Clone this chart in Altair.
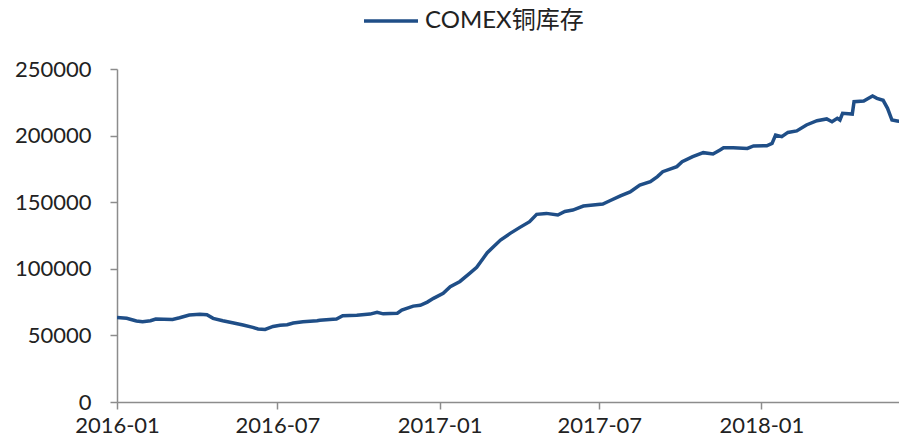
import altair as alt
import pandas as pd

dates = [
    "2016-01-01", "2016-01-12", "2016-01-23", "2016-01-30", "2016-02-08", "2016-02-14",
    "2016-02-23", "2016-03-04", "2016-03-12", "2016-03-23", "2016-04-04", "2016-04-12",
    "2016-04-19", "2016-04-30", "2016-05-11", "2016-05-23", "2016-06-03", "2016-06-09",
    "2016-06-17", "2016-06-26", "2016-07-04", "2016-07-12", "2016-07-19", "2016-07-30",
    "2016-08-15", "2016-08-18", "2016-09-02", "2016-09-06", "2016-09-13", "2016-09-29",
    "2016-10-14", "2016-10-22", "2016-10-29", "2016-11-14", "2016-11-19", "2016-12-02",
    "2016-12-10", "2016-12-18", "2016-12-25", "2017-01-05", "2017-01-13", "2017-01-24",
    "2017-02-04", "2017-02-12", "2017-02-18", "2017-02-24", "2017-03-03", "2017-03-11",
    "2017-03-22", "2017-04-02", "2017-04-13", "2017-04-21", "2017-05-02", "2017-05-15",
    "2017-05-23", "2017-06-01", "2017-06-13", "2017-07-05", "2017-07-13", "2017-07-25",
    "2017-08-05", "2017-08-16", "2017-08-28", "2017-09-05", "2017-09-11", "2017-09-27",
    "2017-10-03", "2017-10-15", "2017-10-27", "2017-11-07", "2017-11-15", "2017-11-19",
    "2017-11-30", "2017-12-16", "2017-12-23", "2018-01-07", "2018-01-13", "2018-01-17",
    "2018-01-24", "2018-01-31", "2018-02-10", "2018-02-21", "2018-03-05", "2018-03-16",
    "2018-03-22", "2018-03-28", "2018-03-31", "2018-04-03", "2018-04-14", "2018-04-16",
    "2018-04-27", "2018-05-01", "2018-05-07", "2018-05-12", "2018-05-19", "2018-05-24",
    "2018-05-29", "2018-06-04", "2018-06-09", "2018-06-15",
]
inventory = [
    63500, 62800, 60800, 60300, 61000, 62300,
    62200, 62000, 63300, 65300, 65800, 65500,
    62800, 61000, 59500, 57800, 56000, 54800,
    54500, 56700, 57600, 58000, 59300, 60300,
    61000, 61400, 62200, 62300, 64700, 65200,
    66000, 67400, 66200, 66700, 69000, 72000,
    72600, 75000, 77800, 81600, 86600, 90500,
    96600, 101100, 106600, 112100, 116600, 121600,
    126600, 131100, 135400, 140900, 141600, 140400,
    143000, 144100, 147100, 148600, 151100, 154700,
    157700, 162900, 165400, 169200, 172900, 176700,
    180400, 184200, 187200, 186200, 189200, 190900,
    190900, 190400, 192200, 192400, 194200, 200400,
    199200, 202400, 203500, 208000, 211200, 212500,
    210400, 213000, 211700, 216700, 216200, 225500,
    226000, 227500, 229700, 228000, 226500, 220500,
    211700, 211000, 210400, 207400,
]
series_name = "COMEX铜库存"
x_ticks = ["2016-01-01", "2016-07-01", "2017-01-01", "2017-07-01", "2018-01-01"]
x_view_end = "2018-06-06"  # right edge of the visible window
y_ticks = [0, 50000, 100000, 150000, 200000, 250000]

df = pd.DataFrame({"date": dates, "value": inventory, "series": series_name})

FONT = "Lato, 'Noto Sans CJK SC', sans-serif"


def dt(s):
    y, m, d = (int(p) for p in s.split("-"))
    return alt.DateTime(year=y, month=m, date=d, utc=True)


chart = (
    alt.Chart(df)
    .mark_line(strokeWidth=3.5, clip=True)
    .encode(
        x=alt.X(
            "date:T",
            title=None,
            scale=alt.Scale(type="utc", domain=[dt(dates[0]), dt(x_view_end)], nice=False),
            axis=alt.Axis(
                values=[dt(s) for s in x_ticks],
                format="%Y-%m",
                grid=False,
                tickSize=7,
                labelPadding=6,
                labelFontSize=22,
                labelFlush=False,
            ),
        ),
        y=alt.Y(
            "value:Q",
            title=None,
            scale=alt.Scale(domain=[0, 250000], nice=False),
            axis=alt.Axis(
                values=y_ticks,
                format="d",
                grid=False,
                tickSize=7,
                labelPadding=19,
                labelFontSize=22,
            ),
        ),
        color=alt.Color(
            "series:N",
            scale=alt.Scale(range=["#1f4e87"]),
            legend=alt.Legend(
                title=None,
                orient="none",
                legendX=277,
                legendY=-61,
                symbolType="M-3.909,0H1",
                symbolSize=484,
                symbolStrokeWidth=3.5,
                labelFontSize=24,
                labelFont=FONT,
                labelColor="#222222",
                labelOffset=5,
                padding=0,
            ),
        ),
    )
    .properties(
        width=782,
        height=333,
        padding={"left": 109, "top": 61, "right": 0, "bottom": 34},
        autosize=alt.AutoSizeParams(type="none"),
    )
    .configure_view(stroke=None)
    .configure_axis(
        domainColor="#8c8c8c",
        tickColor="#8c8c8c",
        domainWidth=1.5,
        tickWidth=1.5,
        labelFont=FONT,
        labelColor="#222222",
    )
)

chart.save("out.html", embed_options={"renderer": "svg", "actions": False})
